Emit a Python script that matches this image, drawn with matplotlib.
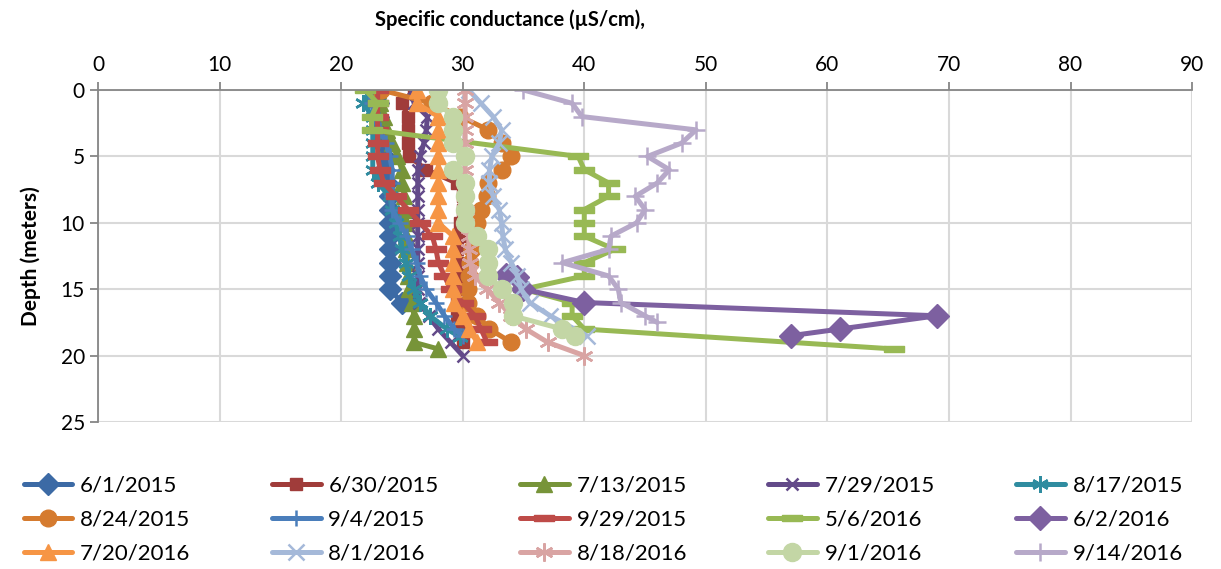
import numpy as np
import matplotlib.pyplot as plt
from matplotlib.path import Path

plt.rcParams['font.family'] = ['Lato', 'DejaVu Sans']

# depth (m) and specific conductance (uS/cm) per sampling date
d_0601_15 = [0, 1, 2, 3, 4, 5, 6, 7, 8, 9, 10, 11, 12, 13, 14, 15, 16]
v_0601_15 = [23, 23, 23, 23, 23.3, 23.5, 23.5, 23.8, 24, 24, 24, 24, 24, 24, 24, 24, 25]

d_0630_15 = [0, 1, 2, 3, 4, 5, 6, 7, 8, 9, 10, 11, 12, 13, 14, 15, 16, 17, 18, 19]
v_0630_15 = [26, 25, 25.5, 25.5, 25.5, 25.6, 27, 29.5, 30, 30, 29.8, 29.8, 29.5, 29.5, 29.5, 29.5, 29.5, 29.5, 29.8, 30]

d_0713_15 = [0, 1, 2, 3, 4, 5, 6, 7, 8, 9, 10, 11, 12, 13, 14, 15, 16, 17, 18, 19, 19.5]
v_0713_15 = [23, 23.2, 23.5, 23.8, 24.2, 24.6, 25, 25, 25.2, 25.2, 25.3, 25.3, 25.3, 25.4, 25.5, 25.6, 25.8, 26, 26, 26, 28]

d_0729_15 = [0, 1, 2, 3, 4, 5, 6, 7, 8, 9, 10, 11, 12, 13, 14, 15, 16, 17, 18, 19, 20]
v_0729_15 = [25.8, 26, 27.1, 27, 26.8, 26.5, 26.3, 26.3, 26.3, 26.3, 26.3, 26.3, 26.3, 26.3, 26.3, 26.3, 26.4, 27.2, 28, 29, 30]

d_0817_15 = [0, 1, 2, 3, 4, 5, 6, 7, 8, 9, 10, 11, 12, 13, 14, 15, 16, 17, 18, 18.6]
v_0817_15 = [22.5, 21.8, 22.6, 22.6, 22.6, 22.6, 22.6, 23, 24, 24.2, 24.5, 24.8, 25, 25.3, 25.6, 26, 26.5, 27.3, 28.7, 29.8]

d_0824_15 = [0, 1, 2, 3, 4, 5, 6, 7, 8, 9, 10, 11, 12, 13, 14, 15, 16, 17, 18, 19]
v_0824_15 = [23.3, 27.5, 29.8, 32.1, 33.2, 34, 33.2, 32.1, 32, 31.5, 31.2, 31, 30.8, 30.6, 30.5, 30.4, 30.4, 31.2, 32.2, 34]

d_0904_15 = [0, 1, 2, 3, 4, 5, 6, 7, 8, 9, 10, 11, 12, 13, 14, 15, 16, 17, 18, 18.5]
v_0904_15 = [22.3, 22.5, 22.8, 23.2, 23.7, 24, 24.2, 24.2, 24.2, 24.2, 24.8, 25.4, 25.8, 26.2, 26.5, 27, 27.8, 28.5, 29.3, 30]

d_0929_15 = [0, 1, 2, 3, 4, 5, 6, 7, 8, 9, 10, 11, 12, 13, 14, 15, 16, 17, 18, 19]
v_0929_15 = [23, 23, 23, 23, 23, 23, 23.2, 23.5, 24.5, 25.5, 26.5, 27.5, 27.8, 28, 28.5, 29, 30, 31, 31.5, 32]

d_0506_16 = [0, 1, 2, 3, 5, 6, 7, 8, 9, 10, 11, 12, 13, 14, 15, 16, 17, 18, 19.5]
v_0506_16 = [22, 23, 22.5, 22.5, 39.5, 40, 42, 42, 40, 40, 40, 42.5, 40, 40, 35, 39, 39, 40, 65.5]

d_0602_16 = [13.9, 14.1, 15, 16, 17, 18, 18.5]
v_0602_16 = [33.6, 34.5, 35, 40, 69, 61, 57]

d_0720_16 = [0, 1, 2, 3, 4, 5, 6, 7, 8, 9, 10, 11, 12, 13, 14, 15, 16, 17, 18, 19]
v_0720_16 = [26.2, 26.2, 28, 28, 28, 28, 28, 28, 28, 28, 28, 29.2, 29.2, 29.2, 29.2, 29.2, 29.3, 30, 30.5, 31.2]

d_0801_16 = [0, 1, 2, 3, 4, 5, 6, 7, 8, 9, 10, 11, 12, 13, 14, 15, 16, 17, 18.5]
v_0801_16 = [30.5, 31.5, 32.5, 33.2, 33, 32.4, 32.2, 32.2, 32.5, 33, 33.2, 33.3, 33.5, 34, 34.5, 34.8, 35.5, 37.2, 40.2]

d_0818_16 = [0, 1, 2, 3, 4, 5, 6, 7, 8, 9, 10, 11, 12, 13, 14, 15, 16, 17, 18, 19, 20]
v_0818_16 = [30.2, 30.2, 30.2, 30.2, 30.2, 30.2, 30.2, 30.2, 30.2, 30.3, 30.3, 30.5, 30.5, 30.6, 31, 32, 33, 34, 35.2, 37, 40]

d_0901_16 = [0, 1, 2, 3, 4, 5, 6, 7, 8, 9, 10, 11, 12, 13, 14, 15, 16, 17, 18, 18.5]
v_0901_16 = [28, 28, 29.2, 29.2, 29.2, 30.2, 29.2, 30.2, 30.2, 30.2, 30.2, 31.2, 32.1, 32.1, 32.1, 33.2, 34.1, 34.1, 38.2, 39.2]

d_0914_16 = [0, 1, 2, 3, 4, 5, 6, 7, 8, 9, 10, 11, 12, 13, 14, 15, 16, 17, 17.5]
v_0914_16 = [35, 39, 39.8, 49.2, 48, 45.2, 47, 46, 44.2, 45, 44.3, 42.2, 42, 38.2, 42, 42.8, 43, 45, 46]

labels = ["6/1/2015", "6/30/2015", "7/13/2015", "7/29/2015", "8/17/2015",
          "8/24/2015", "9/4/2015", "9/29/2015", "5/6/2016", "6/2/2016",
          "7/20/2016", "8/1/2016", "8/18/2016", "9/1/2016", "9/14/2016"]
depths = [d_0601_15, d_0630_15, d_0713_15, d_0729_15, d_0817_15,
          d_0824_15, d_0904_15, d_0929_15, d_0506_16, d_0602_16,
          d_0720_16, d_0801_16, d_0818_16, d_0901_16, d_0914_16]
values = [v_0601_15, v_0630_15, v_0713_15, v_0729_15, v_0817_15,
          v_0824_15, v_0904_15, v_0929_15, v_0506_16, v_0602_16,
          v_0720_16, v_0801_16, v_0818_16, v_0901_16, v_0914_16]

colors = ["#3C6AA5", "#A03C3A", "#779439", "#634A89", "#2F8CA0",
          "#D57B2F", "#4A7EBB", "#BE4B48", "#98B954", "#7D60A0",
          "#F69545", "#A5B9D9", "#D9A4A3", "#C3D6A5", "#B7A9C9"]
dash = Path([(-1.6, -0.5), (1.6, -0.5), (1.6, 0.5), (-1.6, 0.5), (-1.6, -0.5)])
star = (6, 2, 0)
markers = ["D", "s", "^", "x", star,
           "o", "+", dash, dash, "D",
           "^", "x", star, "o", "+"]
msizes = [11, 9, 11, 9, 12, 12, 12, 14, 14, 12, 11, 11, 13, 13, 13]

fig = plt.figure(figsize=(12.21, 5.69), dpi=100)
ax = fig.add_axes([0.0803, 0.2583, 0.8960, 0.5835])

lines = []
for d, v, c, m, ms, lab in zip(depths, values, colors, markers, msizes, labels):
    mew = 1.8 if m in ("x", "+", star) else 1.0
    ln, = ax.plot(v, d, color=c, lw=3.6, marker=m, markersize=ms,
                  markeredgewidth=mew, markeredgecolor=c, markerfacecolor=c,
                  label=lab, solid_capstyle='round')
    lines.append(ln)

ax.set_xlim(0, 90)
ax.set_ylim(25, 0)
ax.set_xticks(np.arange(0, 91, 10))
ax.set_yticks(np.arange(0, 26, 5))
ax.xaxis.tick_top()
ax.grid(True, color="#D9D9D9", lw=1.5)
ax.set_axisbelow(True)
for s in ["bottom", "right"]:
    ax.spines[s].set_visible(False)
for s in ["top", "left"]:
    ax.spines[s].set_color("#868686")
    ax.spines[s].set_linewidth(1.3)
ax.tick_params(axis="both", labelsize=15, colors="#868686", labelcolor="black",
               length=6, width=1.3, direction="out")
ax.tick_params(axis="x", pad=5)

fig.text(0.418, 0.965, "Specific conductance (µS/cm),", ha="center", va="center",
         fontsize=14.5, fontweight="bold")
ax.set_ylabel("Depth (meters)", fontsize=15, fontweight="bold", labelpad=14)

order = [i * 5 + j for j in range(5) for i in range(3)]
fig.legend([lines[k] for k in order], [labels[k] for k in order], ncol=5,
           loc="lower left", bbox_to_anchor=(0.012, -0.006), frameon=False,
           fontsize=16, handlelength=2.2, handletextpad=0.35, columnspacing=3.65,
           labelspacing=0.62, borderaxespad=0)

fig.savefig("out.png", dpi=100)
